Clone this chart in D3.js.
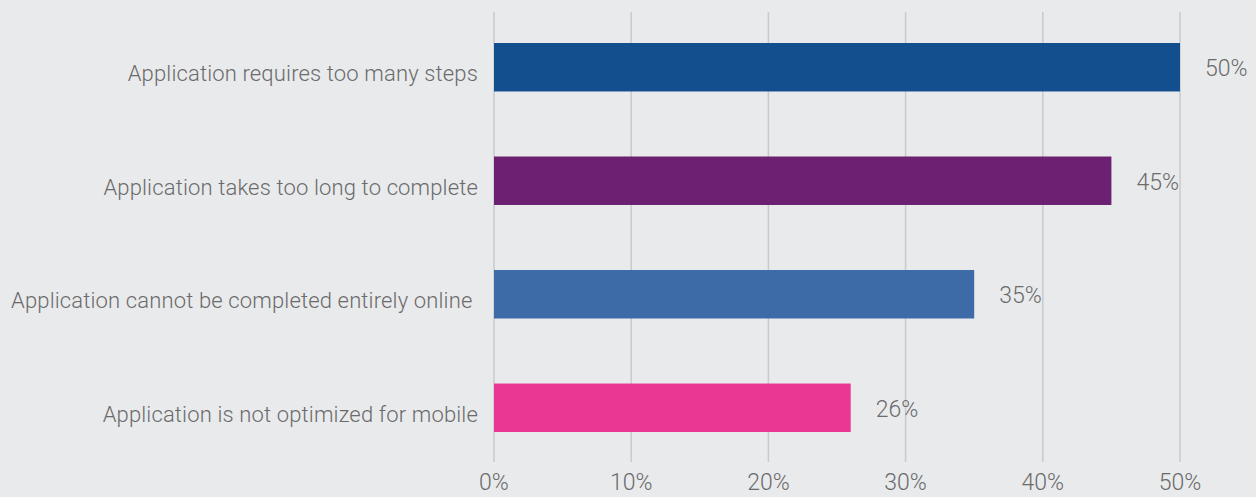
<!DOCTYPE html>
<html lang="en">
<head>
  <meta charset="UTF-8">
  <title>Application friction</title>
  <script src="https://d3js.org/d3.v7.min.js"></script>
  <style>
    html, body { margin: 0; padding: 0; background: #e9eaec; }
    svg { display: block; font-family: Roboto, "Open Sans", sans-serif; font-weight: 300; }
    text { fill: #6b6b6b; }
    .cat { font-size: 22px; letter-spacing: 0.15px; }
    .val, .tick { font-size: 23px; }
    .grid line { stroke: #c9cacc; stroke-width: 1.5; }
  </style>
</head>
<body>
  <div class="chart"></div>
  <script>
    const categories = [
      "Application requires too many steps",
      "Application takes too long to complete",
      "Application cannot be completed entirely online ",
      "Application is not optimized for mobile"
    ];
    const values = [50, 45, 35, 26];
    const colors = ["#134f8f", "#6b2071", "#3d6ba8", "#eb3794"];
    const ticks = [0, 10, 20, 30, 40, 50];

    const width = 1256, height = 497;
    const plotLeft = 494, plotRight = 1180, gridTop = 12, gridBottom = 462;

    const svg = d3.select(".chart").append("svg")
      .attr("width", width)
      .attr("height", height);

    const x = d3.scaleLinear().domain([0, 50]).range([plotLeft, plotRight]);
    const y = d3.scaleBand().domain(categories).range([43, 432]).paddingInner(0.573).paddingOuter(0);

    // vertical gridlines
    svg.append("g").attr("class", "grid")
      .selectAll("line").data(ticks).join("line")
      .attr("x1", d => x(d)).attr("x2", d => x(d))
      .attr("y1", gridTop).attr("y2", gridBottom);

    // bars
    svg.selectAll("rect.bar").data(values).join("rect")
      .attr("class", "bar")
      .attr("x", x(0))
      .attr("y", (d, i) => y(categories[i]))
      .attr("width", d => x(d) - x(0))
      .attr("height", y.bandwidth())
      .attr("fill", (d, i) => colors[i]);

    // value labels
    svg.selectAll("text.val").data(values).join("text")
      .attr("class", "val")
      .attr("x", d => x(d) + 25)
      .attr("y", (d, i) => y(categories[i]) + y.bandwidth() / 2 + 9)
      .text(d => d + "%");

    // category labels
    svg.selectAll("text.cat").data(categories).join("text")
      .attr("class", "cat")
      .attr("x", plotLeft - 16)
      .attr("y", d => y(d) + y.bandwidth() / 2 + 14)
      .attr("text-anchor", "end")
      .attr("xml:space", "preserve")
      .text(d => d);

    // x tick labels
    svg.selectAll("text.tick").data(ticks).join("text")
      .attr("class", "tick")
      .attr("x", d => x(d))
      .attr("y", 490)
      .attr("text-anchor", "middle")
      .text(d => d + "%");
  </script>
</body>
</html>
